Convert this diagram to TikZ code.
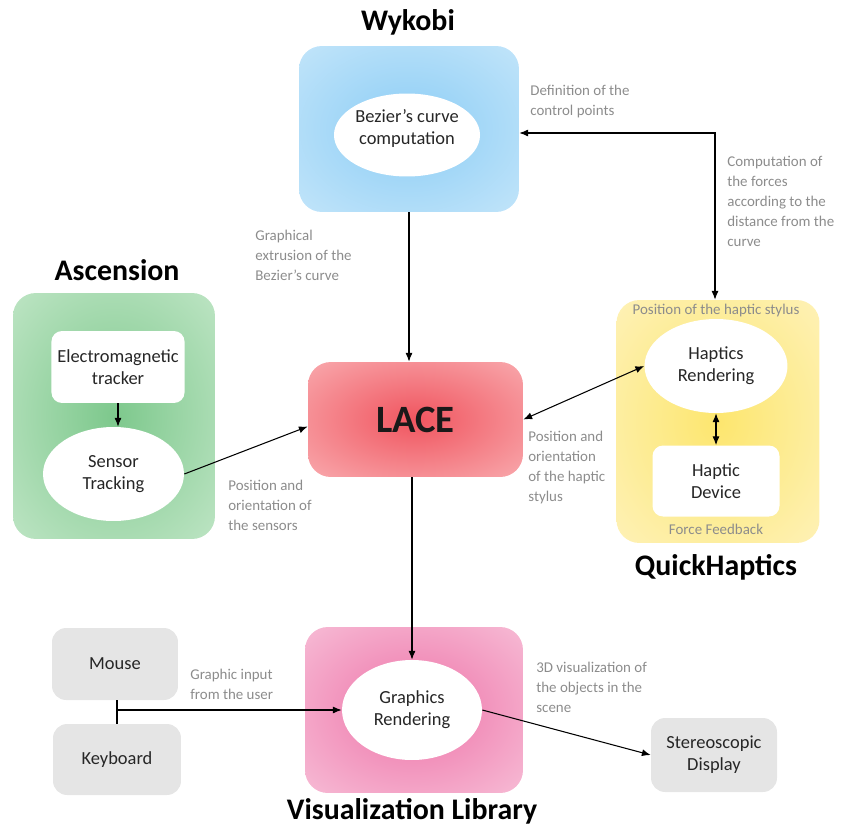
\documentclass[tikz,border=0pt]{standalone}
\usepackage{fontspec}
\setmainfont{Carlito}
\usetikzlibrary{arrows.meta,shapes.geometric}

\definecolor{wykobiin}{RGB}{140,205,245}
\definecolor{wykobiout}{RGB}{215,238,252}
\definecolor{ascin}{RGB}{125,200,140}
\definecolor{ascout}{RGB}{215,240,218}
\definecolor{lacein}{RGB}{240,85,95}
\definecolor{laceout}{RGB}{252,202,204}
\definecolor{qhin}{RGB}{253,230,110}
\definecolor{qhout}{RGB}{254,246,212}
\definecolor{visin}{RGB}{238,115,168}
\definecolor{visout}{RGB}{250,216,231}

\pgfdeclareradialshading{wykobiglow}{\pgfpoint{0bp}{0bp}}{color(0bp)=(wykobiin); color(50bp)=(wykobiout)}
\pgfdeclareradialshading{ascglow}{\pgfpoint{0bp}{0bp}}{color(0bp)=(ascin); color(50bp)=(ascout)}
\pgfdeclareradialshading{laceglow}{\pgfpoint{0bp}{0bp}}{color(0bp)=(lacein); color(50bp)=(laceout)}
\pgfdeclareradialshading{qhglow}{\pgfpoint{0bp}{0bp}}{color(0bp)=(qhin); color(50bp)=(qhout)}
\pgfdeclareradialshading{visglow}{\pgfpoint{0bp}{0bp}}{color(0bp)=(visin); color(50bp)=(visout)}

\begin{document}
\begin{tikzpicture}[>={Latex[length=5pt,width=4pt]}, x=0.02cm, y=-0.02cm]

% ---------- styles ----------
\tikzset{
  group/.style={rounded corners=13pt, inner sep=0pt},
  unit/.style={fill=white, rounded corners=6pt, align=center, text=black!85,
    font=\fontsize{10.5}{12.5}\selectfont},
  blob/.style={ellipse, fill=white, inner sep=0pt, align=center, text=black!85,
    font=\fontsize{10.5}{12.5}\selectfont},
  device/.style={fill=black!10, rounded corners=8pt, align=center, text=black!85,
    font=\fontsize{10.5}{12.5}\selectfont},
  title/.style={font=\fontsize{17}{20}\selectfont\bfseries},
  note/.style={anchor=north west, align=left, inner sep=0pt, text=black!45,
    font=\fontsize{8.5}{11.3}\selectfont},
  link/.style={->, line width=0.6pt}
}

\useasboundingbox (0,0) rectangle (851,828);

% ---------- Wykobi ----------
\node[title] (wykobi) at (408,22) {Wykobi};
\node[group, shading=wykobiglow, minimum width=4.4cm, minimum height=3.32cm] (wykobibox) at (409,129) {};
\node[blob, minimum width=2.78cm, minimum height=1.66cm, text depth=9pt] (bezier) at (407,135) {Bezier's curve\\computation};

% ---------- Ascension ----------
\node[title] (ascension) at (117,270) {Ascension};
\node[group, shading=ascglow, minimum width=4.04cm, minimum height=4.92cm] (ascbox) at (114,416) {};
\node[unit, minimum width=2.56cm, minimum height=1.44cm] (emtracker) at (118,367) {Electromagnetic\\tracker};
\node[blob, minimum width=2.82cm, minimum height=1.88cm] (sensor) at (113.5,474) {Sensor\\Tracking};

% ---------- LACE ----------
\node[group, shading=laceglow, minimum width=4.3cm, minimum height=2.3cm,
  text=black!90, font=\fontsize{22}{24}\selectfont\bfseries] (lace) at (415.5,419.5) {LACE};

% ---------- QuickHaptics ----------
\node[group, shading=qhglow, minimum width=4.06cm, minimum height=4.86cm] (qhbox) at (718,421.5) {};
\node[note, anchor=center] (stylus) at (716,311) {Position of the haptic stylus};
\node[blob, minimum width=2.86cm, minimum height=1.88cm] (haptrend) at (716,366) {Haptics\\Rendering};
\node[unit, minimum width=2.54cm, minimum height=1.42cm] (hapdev) at (716,481) {Haptic\\Device};
\node[note, anchor=center] (feedback) at (716,529) {Force Feedback};
\node[title] (quickhaptics) at (716,567) {QuickHaptics};

% ---------- Visualization Library ----------
\node[group, shading=visglow, minimum width=4.36cm, minimum height=3.32cm] (visbox) at (414,710) {};
\node[blob, minimum width=2.8cm, minimum height=2cm] (gfxrend) at (412,710) {Graphics\\Rendering};
\node[title] (vislib) at (412,811) {Visualization Library};

% ---------- devices ----------
\node[device, minimum width=2.52cm, minimum height=1.44cm] (mouse) at (115,664) {Mouse};
\node[device, minimum width=2.56cm, minimum height=1.42cm] (keyboard) at (117,759.5) {Keyboard};
\node[device, minimum width=2.52cm, minimum height=1.48cm] (stereo) at (714,755) {Stereoscopic\\Display};

% ---------- notes ----------
\node[note] (ctrlnote) at (530,85) {Definition of the\\control points};
\node[note] (forcenote) at (727,156) {Computation of\\the forces\\according to the\\distance from the\\curve};
\node[note] (extrnote) at (255,230) {Graphical\\extrusion of the\\Bezier's curve};
\node[note] (sensnote) at (228,480) {Position and\\orientation of\\the sensors};
\node[note] (stylnote) at (528,431) {Position and\\orientation\\of the haptic\\stylus};
\node[note] (inputnote) at (190,669) {Graphic input\\from the user};
\node[note] (visnote) at (536,662) {3D visualization of\\the objects in the\\scene};

% ---------- connectors ----------
\coordinate (ctrlcorner) at (715,133);
\draw[link, <->] (wykobibox.east |- ctrlcorner) -- (ctrlcorner) -- (ctrlcorner |- qhbox.north);
\draw[link] (wykobibox.south) -- (wykobibox.south |- lace.north);
\draw[link] (emtracker.south) -- (emtracker.south |- sensor.north);
\draw[link] (sensor.east) -- ([yshift=-4pt]lace.west);
\draw[link, <->] (lace.east) -- (haptrend.west);
\draw[link, <->] (haptrend.south) -- (hapdev.north);
\draw[link] (gfxrend.north |- lace.south) -- (gfxrend.north);

% Mouse / Keyboard join
\coordinate (inputjoin) at (keyboard.north |- gfxrend.west);
\draw[line width=0.6pt] (keyboard.north |- mouse.south) -- (keyboard.north);
\draw[link] (inputjoin) -- (gfxrend.west);
\draw[link] (gfxrend.east) -- (stereo.west);

\end{tikzpicture}
\end{document}
